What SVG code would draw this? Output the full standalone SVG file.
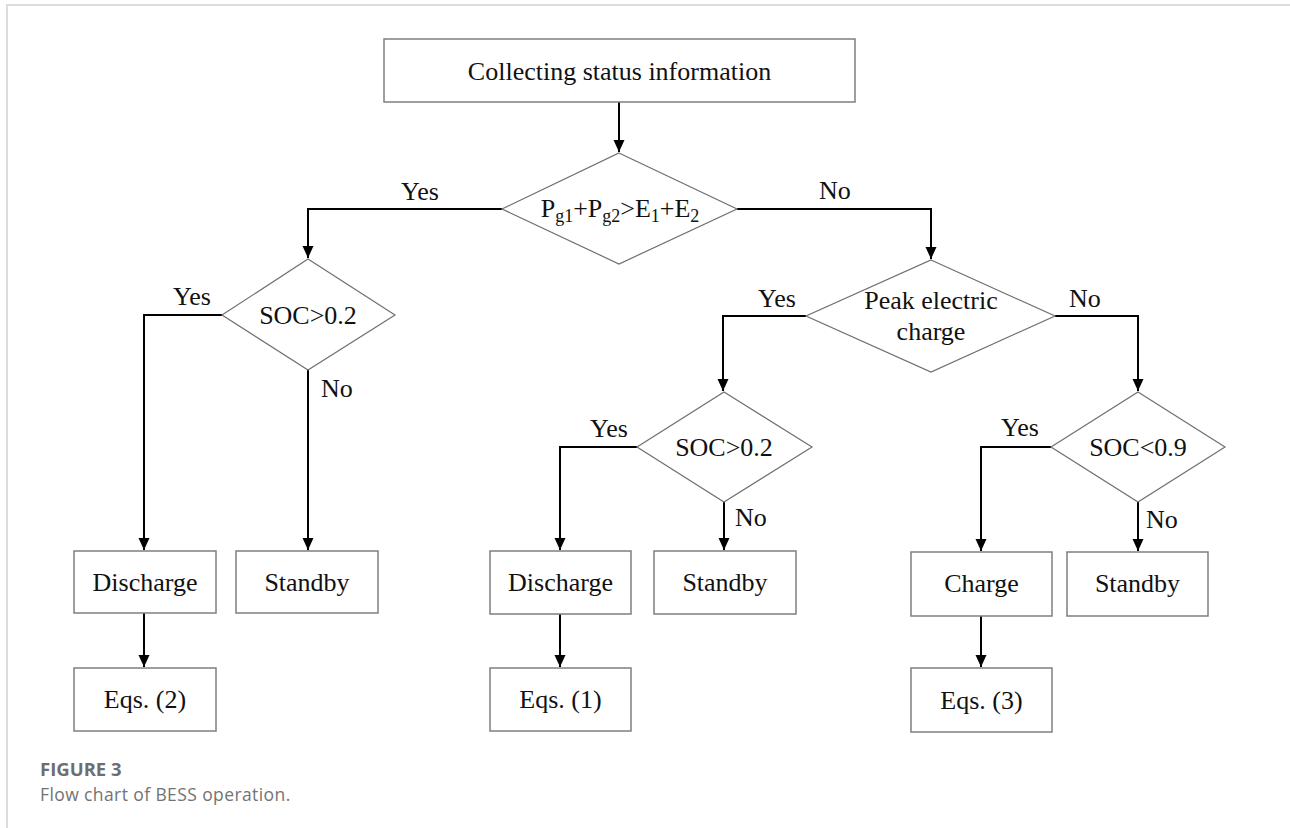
<svg xmlns="http://www.w3.org/2000/svg" width="1290" height="828" viewBox="0 0 1290 828">
<defs>
<style>
.box{fill:#fff;stroke:#7f7f7f;stroke-width:1.5}
.dia{fill:#fff;stroke:#6f6f6f;stroke-width:1.2}
.t{font-family:"Liberation Serif","Times New Roman",serif;font-size:26px;fill:#111}
.m{text-anchor:middle}
.c{fill:none;stroke:#000;stroke-width:2}
.frame{stroke:#dcdcdc;stroke-width:2;fill:none}
.cap1{font-family:"Open Sans","Liberation Sans",sans-serif;font-size:18.5px;font-weight:bold;fill:#6e6e6e}
.cap2{font-family:"Open Sans","Liberation Sans",sans-serif;font-size:17.5px;fill:#737373;letter-spacing:0.4px}
</style>
<marker id="ah" viewBox="0 0 12 12" refX="12" refY="6" markerWidth="12" markerHeight="12" markerUnits="userSpaceOnUse" orient="auto">
<path d="M0,0.5 L12,6 L0,11.5 Z" fill="#000"/>
</marker>
</defs>
<rect width="1290" height="828" fill="#fff"/>
<path class="frame" d="M7,828 V5 H1290"/>

<g id="connectors">
<path class="c" d="M619,102 V152" marker-end="url(#ah)"/>
<path class="c" d="M502,209 H308 V258" marker-end="url(#ah)"/>
<path class="c" d="M737,209 H931 V259" marker-end="url(#ah)"/>
<path class="c" d="M222,315 H144 V550" marker-end="url(#ah)"/>
<path class="c" d="M308,370 V550" marker-end="url(#ah)"/>
<path class="c" d="M144,613 V667" marker-end="url(#ah)"/>
<path class="c" d="M806,316 H723 V391" marker-end="url(#ah)"/>
<path class="c" d="M1055,316 H1138 V391" marker-end="url(#ah)"/>
<path class="c" d="M637,447 H560 V550" marker-end="url(#ah)"/>
<path class="c" d="M724,502 V550" marker-end="url(#ah)"/>
<path class="c" d="M560,614 V667" marker-end="url(#ah)"/>
<path class="c" d="M1051,447 H981 V551" marker-end="url(#ah)"/>
<path class="c" d="M1138,502 V551" marker-end="url(#ah)"/>
<path class="c" d="M981,616 V667" marker-end="url(#ah)"/>
</g>

<g id="labels">
<text class="t" x="401" y="200">Yes</text>
<text class="t" x="819" y="199">No</text>
<text class="t" x="173" y="305">Yes</text>
<text class="t" x="321" y="397">No</text>
<text class="t" x="758" y="307">Yes</text>
<text class="t" x="1069" y="307">No</text>
<text class="t" x="590" y="437">Yes</text>
<text class="t" x="735" y="526">No</text>
<text class="t" x="1001" y="436">Yes</text>
<text class="t" x="1146" y="528">No</text>
</g>

<g id="n-collect">
<rect class="box" x="384" y="39" width="471" height="63"/>
<text class="t m" x="619.5" y="80">Collecting status information</text>
</g>

<g id="n-power">
<polygon class="dia" points="619,153 737,209 619,264 502,209"/>
<text class="t m" x="620" y="217">P<tspan font-size="18" dy="5">g1</tspan><tspan dy="-5">+P</tspan><tspan font-size="18" dy="5">g2</tspan><tspan dy="-5">&gt;E</tspan><tspan font-size="18" dy="5">1</tspan><tspan dy="-5">+E</tspan><tspan font-size="18" dy="5">2</tspan></text>
</g>

<g id="n-soc1">
<polygon class="dia" points="308,259 395,315 308,370 222,315"/>
<text class="t m" x="308" y="324">SOC&gt;0.2</text>
</g>

<g id="n-peak">
<polygon class="dia" points="931,260 1055,316 931,372 806,316"/>
<text class="t m" x="931" y="309">Peak electric</text>
<text class="t m" x="931" y="340">charge</text>
</g>

<g id="n-soc2">
<polygon class="dia" points="724,392 812,447 724,502 637,447"/>
<text class="t m" x="724" y="456">SOC&gt;0.2</text>
</g>

<g id="n-soc3">
<polygon class="dia" points="1138,392 1225,447 1138,502 1051,447"/>
<text class="t m" x="1138" y="456">SOC&lt;0.9</text>
</g>

<g id="n-discharge1">
<rect class="box" x="74" y="551" width="142" height="62"/>
<text class="t m" x="145" y="591">Discharge</text>
</g>
<g id="n-standby1">
<rect class="box" x="236" y="551" width="142" height="62"/>
<text class="t m" x="307" y="591">Standby</text>
</g>
<g id="n-eqs2">
<rect class="box" x="74" y="668" width="142" height="63"/>
<text class="t m" x="145" y="708">Eqs. (2)</text>
</g>

<g id="n-discharge2">
<rect class="box" x="490" y="551" width="141" height="63"/>
<text class="t m" x="560.5" y="591">Discharge</text>
</g>
<g id="n-standby2">
<rect class="box" x="654" y="551" width="142" height="63"/>
<text class="t m" x="725" y="591">Standby</text>
</g>
<g id="n-eqs1">
<rect class="box" x="490" y="668" width="141" height="63"/>
<text class="t m" x="560.5" y="708">Eqs. (1)</text>
</g>

<g id="n-charge">
<rect class="box" x="911" y="552" width="141" height="64"/>
<text class="t m" x="981.5" y="592">Charge</text>
</g>
<g id="n-standby3">
<rect class="box" x="1067" y="552" width="141" height="64"/>
<text class="t m" x="1137.5" y="592">Standby</text>
</g>
<g id="n-eqs3">
<rect class="box" x="911" y="668" width="141" height="64"/>
<text class="t m" x="981.5" y="709">Eqs. (3)</text>
</g>

<g id="caption">
<text class="cap1" x="40" y="776">FIGURE 3</text>
<text class="cap2" x="40" y="801">Flow chart of BESS operation.</text>
</g>
</svg>
